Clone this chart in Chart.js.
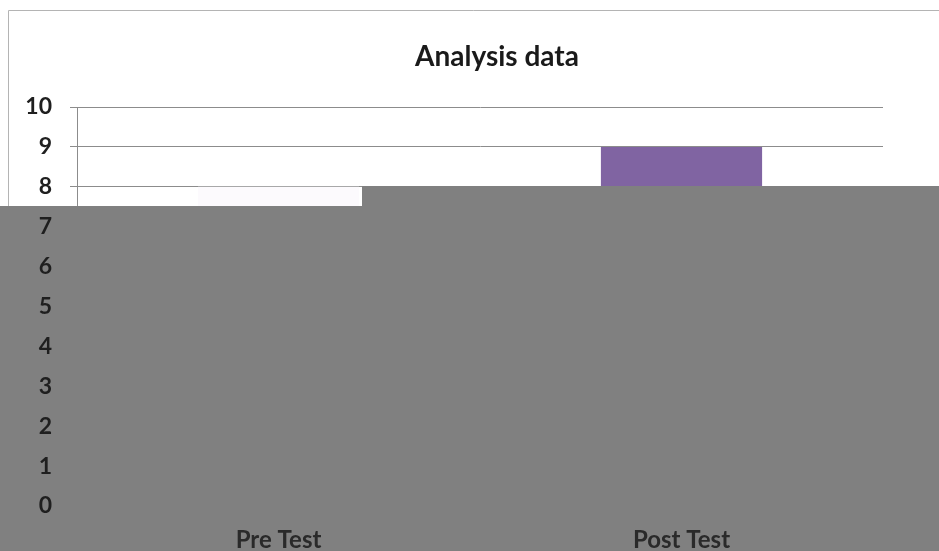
<!DOCTYPE html>
<html>
<head>
<meta charset="utf-8">
<script src="https://cdn.jsdelivr.net/npm/chart.js@4/dist/chart.umd.min.js"></script>
<style>
  html, body { margin: 0; padding: 0; background: #fff; }
  #wrap { position: relative; width: 939px; height: 551px; }
</style>
</head>
<body>
<div id="wrap"><canvas id="chart" width="939" height="551"></canvas></div>
<script>
// chart data
const categories = ['Pre Test', 'Post Test'];
const scores = [8, 9];
const barColors = ['#fcfafd', '#8064A2'];
const yTicks = [0, 1, 2, 3, 4, 5, 6, 7, 8, 9, 10];
const chartTitle = 'Analysis data';

const FONT = 'Lato, "Open Sans", sans-serif';

// frame of the scanned chart box + title
const framePlugin = {
  id: 'frame',
  beforeDraw(chart) {
    const ctx = chart.ctx;
    ctx.save();
    ctx.strokeStyle = '#b4b4b4';
    ctx.lineWidth = 1;
    ctx.beginPath();
    ctx.moveTo(8.5, chart.height);
    ctx.lineTo(8.5, 10.5);
    ctx.lineTo(chart.width, 10.5);
    ctx.stroke();
    ctx.fillStyle = '#1a1a1a';
    ctx.font = 'bold 28px ' + FONT;
    ctx.textAlign = 'center';
    ctx.textBaseline = 'middle';
    ctx.fillText(chartTitle, 497, 57);
    ctx.restore();
  }
};

// grey block covering the lower part of the scan
const coverPlugin = {
  id: 'cover',
  afterDatasetsDraw(chart) {
    const ctx = chart.ctx;
    ctx.save();
    ctx.fillStyle = '#808080';
    ctx.beginPath();
    ctx.moveTo(362, 186);
    ctx.lineTo(chart.width, 186);
    ctx.lineTo(chart.width, chart.height);
    ctx.lineTo(0, chart.height);
    ctx.lineTo(0, 206);
    ctx.lineTo(362, 206);
    ctx.closePath();
    ctx.fill();
    ctx.restore();
  }
};

new Chart(document.getElementById('chart').getContext('2d'), {
  type: 'bar',
  data: {
    labels: categories,
    datasets: [{
      data: scores,
      backgroundColor: barColors,
      borderWidth: 0,
      barPercentage: 0.4,
      categoryPercentage: 1
    }]
  },
  options: {
    responsive: false,
    animation: false,
    layout: { padding: { left: 0, right: 56, top: 107, bottom: 0 } },
    plugins: {
      legend: { display: false },
      title: { display: false },
      tooltip: { enabled: false }
    },
    scales: {
      x: {
        afterFit(scale) { scale.height = 45; },
        grid: { display: false, drawTicks: false },
        border: { display: true, color: '#8c8c8c' },
        ticks: { padding: 20, color: '#2a2a2a', font: { family: FONT, size: 24, weight: 'bold' }, z: 1 }
      },
      y: {
        min: yTicks[0],
        max: yTicks[yTicks.length - 1],
        afterBuildTicks(scale) { scale.ticks = yTicks.map(v => ({ value: v })); },
        afterFit(scale) { scale.width = 77; },
        grid: { color: '#8c8c8c', lineWidth: 1, tickLength: 7 },
        border: { color: '#8c8c8c' },
        ticks: { padding: 18, color: '#1f1f1f', font: { family: FONT, size: 23, weight: 'bold' }, z: 1 }
      }
    }
  },
  plugins: [framePlugin, coverPlugin]
});
</script>
</body>
</html>
